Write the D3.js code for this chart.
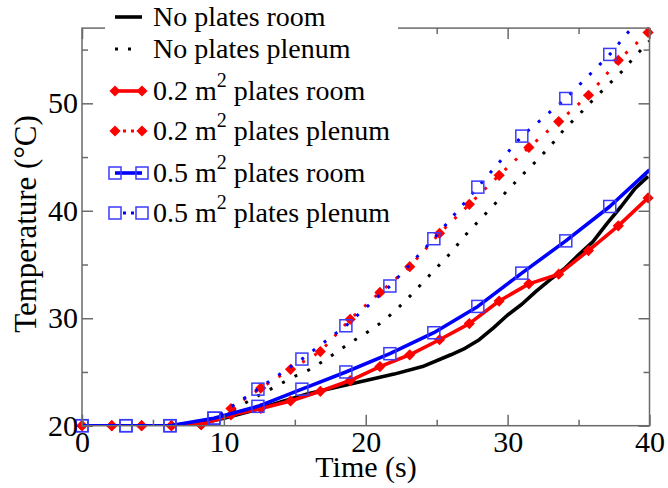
<!DOCTYPE html>
<html>
<head>
<meta charset="utf-8">
<script src="https://cdn.jsdelivr.net/npm/d3@7"></script>
<style>
  html, body { margin: 0; padding: 0; background: #fff; }
  svg { display: block; }
  text { font-family: "Liberation Serif", "Times New Roman", serif; fill: #000; }
</style>
</head>
<body>
<svg id="chart" width="668" height="488"></svg>
<script>
// ---- Data: temperature (°C) versus time (s) ----
// No plates: sampled once per second
const noPlatesTimes   = [0, 7, 8, 10, 12, 14, 16, 18, 20, 22, 24, 26, 27, 28, 29, 30, 31, 32, 33, 34, 35, 36, 37, 38, 39, 39.9];
const noPlatesRoom    = [20, 20, 20.1, 20.7, 21.4, 22.2, 23.0, 23.6, 24.2, 24.8, 25.5, 26.6, 27.2, 28.0, 29.1, 30.3, 31.3, 32.5, 33.6, 34.6, 35.9, 37.1, 38.8, 40.4, 42.1, 43.2];
const noPlenumTimes   = [0, 7, 8, 9, 10, 11, 12, 13, 14, 15, 16, 17, 18, 19, 20, 21, 22, 23, 24, 25, 26, 27, 28, 29, 30, 31, 32, 33, 34, 35, 36, 37, 38, 39, 40];
const noPlatesPlenum  = [20, 20, 20.1, 20.5, 21.0, 21.7, 22.5, 23.2, 23.9, 24.6, 25.2, 26.0, 26.9, 27.8, 28.6, 29.5, 30.6, 31.9, 33.3, 34.7, 36.1, 37.7, 39.1, 40.5, 41.9, 43.3, 44.6, 46.0, 47.6, 48.9, 50.3, 51.6, 52.9, 54.4, 55.8];

// 0.2 m² plates: one record every 2.1 s (a symbol on each)
const smallTimes      = [0, 2.1, 4.2, 6.3, 8.4, 10.5, 12.6, 14.7, 16.8, 18.9, 21.0, 23.1, 25.2, 27.3, 29.4, 31.5, 33.6, 35.7, 37.8, 39.9];
const smallRoom       = [20, 20, 20, 20, 20.1, 21.0, 21.6, 22.3, 23.2, 24.2, 25.5, 26.6, 28.0, 29.5, 31.6, 33.2, 34.1, 36.3, 38.6, 41.2];
const smallPlenum     = [20, 20, 20, 20, 20.1, 21.6, 23.5, 25.25, 26.9, 29.9, 32.4, 34.8, 37.9, 40.6, 43.3, 45.9, 48.3, 50.75, 54.0, 56.6];

// 0.5 m² plates: one record every 3.1 s, plus the final record at 40 s
const largeTimes      = [0, 3.1, 6.2, 9.3, 12.4, 15.5, 18.6, 21.7, 24.8, 27.9, 31.0, 34.1, 37.2, 40];
const largeRoom       = [20, 20, 20, 20.7, 21.8, 23.4, 25.0, 26.7, 28.65, 31.1, 34.2, 37.2, 40.4, 43.8];
const largePlenum     = [20, 20, 20, 20.7, 23.4, 26.2, 29.3, 33.0, 37.4, 42.2, 46.95, 50.45, 54.55, 59.0];

// Axis ticks
const xMajorTicks = [0, 10, 20, 30, 40];
const xMinorTicks = [5, 15, 25, 35];
const yMajorTicks = [20, 30, 40, 50];
const yMinorTicks = [25, 35, 45, 55];

const legendLabels = [
  "No plates room",
  "No plates plenum",
  "0.2 m² plates room",
  "0.2 m² plates plenum",
  "0.5 m² plates room",
  "0.5 m² plates plenum"
];

// ---- Layout ----
const svg = d3.select("#chart");
const frameL = 82, frameR = 649.5, frameT = 28.1, frameB = 425.7;
const x = d3.scaleLinear().domain([0, 40]).range([frameL, frameR]);
const y = d3.scaleLinear().domain([20, 57]).range([frameB, frameT]);
const frameColor = "#6a6a6a";

const zip = (ts, vs) => ts.map((t, i) => [t, vs[i]]);

svg.append("defs").append("clipPath").attr("id", "plotClip")
  .append("rect").attr("x", frameL).attr("y", frameT)
  .attr("width", frameR - frameL).attr("height", frameB - frameT);

const line = d3.line().x(d => x(d[0])).y(d => y(d[1]));
const plot = svg.append("g");

// Series definitions (drawing order: black, red, blue)
const series = [
  { pts: zip(noPlatesTimes, noPlatesRoom),   color: "#000", dotted: false, symbol: null },
  { pts: zip(noPlenumTimes, noPlatesPlenum), color: "#000", dotted: true,  symbol: null },
  { pts: zip(smallTimes, smallRoom),         color: "#ff0000", dotted: false, symbol: "diamond", symCount: smallTimes.length },
  { pts: zip(smallTimes, smallPlenum),       color: "#ff0000", dotted: true,  symbol: "diamond", symCount: smallTimes.length },
  { pts: zip(largeTimes, largeRoom),         color: "#0000ff", dotted: false, symbol: "square", symCount: largeTimes.length - 1 },
  { pts: zip(largeTimes, largePlenum),       color: "#0000ff", dotted: true,  symbol: "square", symCount: largeTimes.length - 1 }
];

const diamondPath = r => `M0,${-r}L${r},0L0,${r}L${-r},0Z`;

function styleLine(sel, s) {
  sel.attr("fill", "none").attr("stroke", s.color)
    .attr("stroke-linejoin", "round");
  if (s.dotted) {
    sel.attr("stroke-width", 3).attr("stroke-dasharray", "3 11");
  } else {
    sel.attr("stroke-width", 3.6);
  }
}

function drawSymbol(g, s, px, py) {
  if (s.symbol === "diamond") {
    g.append("path").attr("d", diamondPath(5.6))
      .attr("transform", `translate(${px},${py})`)
      .attr("fill", "#ff0000").attr("stroke", "none");
  } else if (s.symbol === "square") {
    g.append("rect").attr("x", px - 6).attr("y", py - 6)
      .attr("width", 12).attr("height", 12)
      .attr("fill", "none").attr("stroke", "#3a3aff").attr("stroke-width", 1.5);
  }
}

series.forEach(s => {
  plot.append("path").datum(s.pts).attr("d", line)
    .attr("clip-path", "url(#plotClip)")
    .call(styleLine, s);
  if (s.symbol) {
    const g = plot.append("g");
    s.pts.slice(0, s.symCount).forEach(d => drawSymbol(g, s, x(d[0]), y(d[1])));
  }
});

// ---- Frame and ticks (all pointing inward) ----
const axes = svg.append("g");
function axisGroup(axis, tx, ty) {
  const g = axes.append("g").attr("transform", `translate(${tx},${ty})`).call(axis);
  g.select(".domain").remove();
  g.selectAll("line").attr("stroke", frameColor).attr("stroke-width", 1.5);
  g.selectAll("text").attr("font-family", "Liberation Serif").attr("font-size", 30).attr("fill", "#000");
  return g;
}
axisGroup(d3.axisBottom(x).tickValues(xMajorTicks).tickSize(-11).tickPadding(5).tickFormat(d3.format("d")), 0, frameB);
axisGroup(d3.axisBottom(x).tickValues(xMinorTicks).tickSize(-6).tickFormat(""), 0, frameB);
axisGroup(d3.axisLeft(y).tickValues(yMajorTicks).tickSize(-11).tickPadding(4).tickFormat(d3.format("d")), frameL, 0);
axisGroup(d3.axisLeft(y).tickValues(yMinorTicks).tickSize(-6).tickFormat(""), frameL, 0);
axisGroup(d3.axisTop(x).tickValues(xMajorTicks).tickSize(-11).tickFormat(""), 0, frameT);
axisGroup(d3.axisTop(x).tickValues(xMinorTicks).tickSize(-6).tickFormat(""), 0, frameT);
axisGroup(d3.axisRight(y).tickValues(yMajorTicks).tickSize(-11).tickFormat(""), frameR, 0);
axisGroup(d3.axisRight(y).tickValues(yMinorTicks).tickSize(-6).tickFormat(""), frameR, 0);

axes.append("rect").attr("x", frameL).attr("y", frameT)
  .attr("width", frameR - frameL).attr("height", frameB - frameT)
  .attr("fill", "none").attr("stroke", frameColor).attr("stroke-width", 1.5);

// ---- Axis titles ----
svg.append("text").attr("x", 366).attr("y", 477)
  .attr("text-anchor", "middle").attr("font-size", 30).text("Time (s)");
svg.append("text")
  .attr("transform", "translate(36,224) rotate(-90)")
  .attr("text-anchor", "middle").attr("font-size", 31).text("Temperature (°C)");

// ---- Legend (opaque box over the top of the frame) ----
const legend = svg.append("g");
legend.append("rect").attr("x", 105).attr("y", 0).attr("width", 293).attr("height", 232).attr("fill", "#fff");
const rowBaselines = [26, 58, 100, 140, 182, 222];
const symX0 = 115, symX1 = 142, textX = 153;

legendLabels.forEach((label, i) => {
  const s = series[i];
  const base = rowBaselines[i];
  const sy = base - 9;
  const seg = legend.append("path").datum([[symX0, sy], [symX1, sy]])
    .attr("d", d3.line())
    .call(styleLine, s);
  if (s.dotted) seg.attr("stroke-dasharray", s.symbol ? "0 8 3 5 3 20" : "3 10 3 20");
  if (s.symbol) {
    drawSymbol(legend, s, symX0, sy);
    drawSymbol(legend, s, symX1, sy);
  }
  const t = legend.append("text").attr("x", textX).attr("y", base).attr("font-size", 28);
  const parts = label.split("²");
  t.append("tspan").text(parts[0]);
  if (parts.length > 1) {
    t.append("tspan").attr("dy", -13).attr("font-size", 20).text("2");
    t.append("tspan").attr("dy", 13).text(parts[1]);
  }
});
</script>
</body>
</html>
